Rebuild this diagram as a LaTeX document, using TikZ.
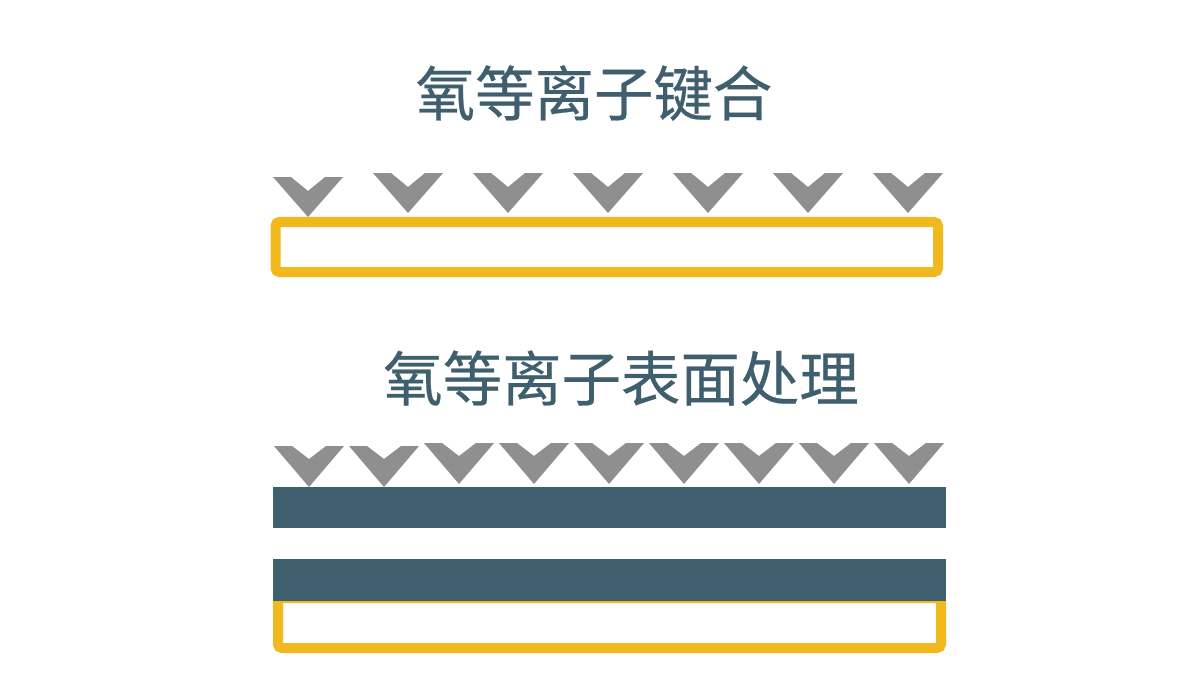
\documentclass[tikz,border=0pt]{standalone}
\usepackage{fontspec}
\newfontfamily\cjkfont[FakeBold=0.4]{Noto Sans CJK SC}
\definecolor{titleBlue}{HTML}{405F6E}
\definecolor{bondYellow}{HTML}{F2B91F}
\definecolor{ionGray}{HTML}{8F8F8F}
\colorlet{layerBlue}{titleBlue}

\begin{document}
\begin{tikzpicture}[x = 0.01cm, y = -0.01cm,
		title/.style = {inner sep = 0pt, text = titleBlue, font = \cjkfont\fontsize{16.9}{20}\selectfont},
		ion/.style = {fill = ionGray},
		frame/.style = {draw = bondYellow, line width = 0.1cm, rounded corners = 0.04cm},
		layer/.style = {fill = layerBlue}]
		\useasboundingbox (0, 0) rectangle (1200, 700);
		%%%%%%%%%%%%%
		\node[title] (bondTitle) at (594, 93) {氧等离子键合};
		\node[title] (treatTitle) at (621, 378) {氧等离子表面处理};
		%%%%%%%%%%%%%
		\foreach \x/\y in {308/177, 408/173, 508/173, 608/173, 708/173, 808/173, 908/173}
			\fill[ion] (\x-35, \y) -- (\x-17, \y) -- (\x, \y+14) -- (\x+17, \y) -- (\x+35, \y) -- (\x, \y+40) -- cycle;
		\draw[frame] (275.5, 222) rectangle (938, 272);
		%%%%%%%%%%%%%%%%%%%%%%
		\foreach \x/\y in {309/446, 384/446, 459/443, 534/443, 609/443, 684/443, 759/443, 834/443, 909/443}
			\fill[ion] (\x-35, \y) -- (\x-17, \y) -- (\x, \y+13) -- (\x+17, \y) -- (\x+35, \y) -- (\x, \y+41) -- cycle;
		\draw[frame] (278, 598) rectangle (941, 648);
		\fill[layer] (273, 487) rectangle (946, 528);
		\fill[layer] (273, 559) rectangle (946, 601);
\end{tikzpicture}
\end{document}
